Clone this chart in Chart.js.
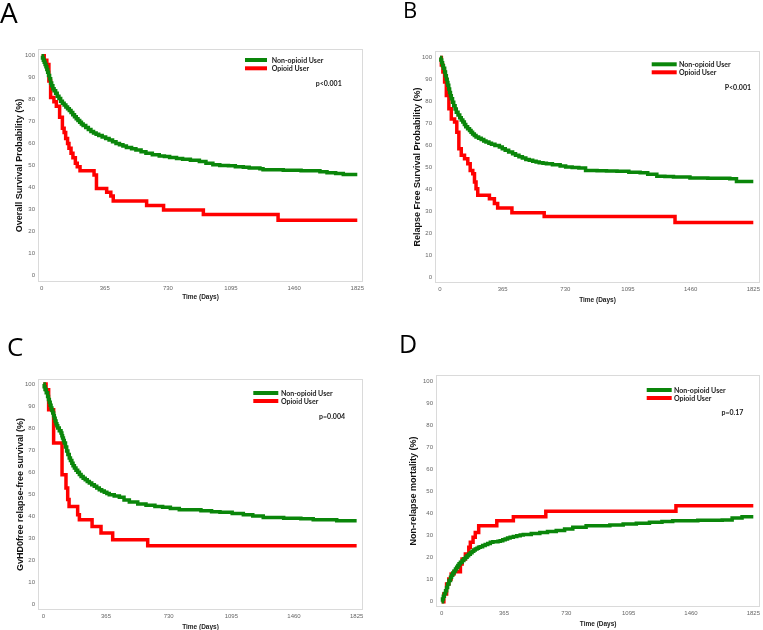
<!DOCTYPE html>
<html><head><meta charset="utf-8">
<script src="https://cdn.jsdelivr.net/npm/chart.js@4.4.0/dist/chart.umd.min.js"></script>
<style>
html,body{margin:0;padding:0;background:#fff;width:763px;height:630px;overflow:hidden;position:relative}
canvas{position:absolute;left:0;top:0}
.letter{position:absolute;font-family:'Open Sans',sans-serif;color:#000;line-height:1;white-space:nowrap}
</style></head><body>
<canvas id="cA" width="763" height="630"></canvas>
<canvas id="cB" width="763" height="630"></canvas>
<canvas id="cC" width="763" height="630"></canvas>
<canvas id="cD" width="763" height="630"></canvas>
<script>
// ---------- DATA ----------
const xTicks = [0, 365, 730, 1095, 1460, 1825];
const yTicks = [0, 10, 20, 30, 40, 50, 60, 70, 80, 90, 100];
const seriesNames = ['Non-opioid User', 'Opioid User'];
const panelLetters = ['A', 'B', 'C', 'D'];
const pTexts = ['p<0.001', 'P<0.001', 'p=0.004', 'p=0.17'];
const yTitles = ['Overall Survival Probability (%)', 'Relapse Free Survival Probability (%)', 'GvHD0free relapse-free survival (%)', 'Non-relapse mortality (%)'];
const xTitle = 'Time (Days)';

// Panel A: overall survival
const aNonDays = [0,5,10,15,20,25,30,35,40,46,52,58,65,72,81,90,100,110,120,130,140,150,160,170,180,190,200,210,220,230,240,255,270,285,300,315,330,350,370,390,410,430,450,470,490,520,545,575,603,640,680,710,740,780,815,860,912,950,990,1030,1080,1120,1166,1200,1262,1280,1397,1500,1609,1650,1700,1744,1825];
const aNonVals = [100,99,98,97,96,95,93.8,92.5,91,89.5,87.6,86.3,85,84,82.9,81.5,80.5,79.3,78.3,77.5,76.6,75.8,75,74.1,73.1,72.2,71.3,70.5,69.7,68.9,68.2,67.3,66.4,65.5,64.8,64.2,63.6,63,62.3,61.6,60.8,60,59.4,58.8,58.2,57.6,57,56.2,55.5,54.9,54.3,54,53.6,53.2,52.8,52.4,51.8,51,50.3,50,49.8,49.4,49.1,48.8,48.5,48,47.8,47.6,47.1,46.6,46.3,45.9,45.9];
const aOpDays = [0,15,30,42,52,71,85,104,120,130,139,150,158,170,181,195,206,222,303,317,376,400,414,607,705,935,1367,1825];
const aOpVals = [100,98,96,88.5,81,79,77,72,67,65,62.3,60,57.8,55.5,53.5,51,49.4,47.6,45.6,39.5,37.7,36,33.8,31.7,29.6,27.6,25,25];

// Panel B: relapse free survival
const bNonDays = [0,5,10,15,20,27,32,37,42,46,51,56,61,66,73,80,88,95,105,115,124,133,142,150,161,172,181,190,200,210,225,240,255,268,285,300,320,346,363,380,400,423,440,460,480,500,520,540,560,578,600,620,655,700,732,770,809,848,915,970,1031,1100,1166,1210,1263,1310,1360,1456,1560,1688,1727,1825];
const bNonVals = [100,98.8,97.5,96.2,95,93.3,91.6,90,88.6,87.3,85.6,84,82.6,81.2,79.6,78,76.5,75.1,73.8,72.5,71.5,70.6,69.5,68.5,67.6,66.8,66,65.2,64.5,63.8,63.2,62.6,62,61.5,61,60.5,59.9,59.2,58.5,57.8,57,56.2,55.5,54.8,54.2,53.6,53.2,52.8,52.4,52.1,51.8,51.6,51.2,50.6,50.1,49.9,49.7,48.6,48.4,48.3,48.2,47.8,47.5,46.8,46,45.8,45.6,45.1,45,44.8,43.6,43.6];
const bOpDays = [0,8,17,27,37,52,66,85,98,110,124,143,162,176,191,201,210,220,288,317,336,419,607,1369,1825];
const bOpVals = [100,96.5,93.3,88.8,82.7,76.6,72,70.6,66,58.5,55.5,53.9,51.6,48.6,47.1,43.3,40.3,37.3,35.7,33.5,31.5,29.4,27.6,24.9,24.9];

// Panel C: GvHD-free relapse-free survival
const cNonDays = [0,5,10,17,25,30,35,40,45,50,55,60,64,69,74,79,84,93,103,108,112,117,122,129,136,143,151,158,166,173,181,190,200,210,220,232,244,256,268,282,297,311,326,340,355,370,384,413,443,470,501,550,598,650,695,740,792,918,980,1029,1100,1165,1220,1281,1400,1500,1572,1709,1825];
const cNonVals = [100,98.8,97.5,96,94.4,93,91.7,90.4,89.1,88,86.8,85.6,84.5,83.2,82,81,80,78.8,77.7,76.5,75.5,74.3,73.2,71.4,69.6,68,66.4,65.2,64,62.9,61.8,60.8,59.9,58.9,58,57.2,56.5,55.7,55,54.2,53.5,52.7,52,51.4,50.8,50.2,49.7,49.1,48.5,47.3,46.4,45.5,44.9,44.4,44,43.4,42.9,42.4,42,41.7,41.2,40.6,40,39.4,39,38.8,38.3,37.9,37.9];
const cOpDays = [0,16,31,60,109,132,142,150,200,210,284,336,404,608,1825];
const cOpVals = [100,97.4,88.3,73.2,58.8,52.7,47.5,44.4,40.6,38.3,35.3,32.3,29.2,26.5,26.5];

// Panel D: non-relapse mortality
const dNonDays = [0,5,10,16,23,29,35,43,52,58,65,73,81,88,95,102,110,120,130,140,149,158,168,178,188,197,207,216,226,240,255,270,285,300,315,330,343,358,372,386,401,420,440,460,478,525,575,620,671,720,768,846,908,985,1063,1140,1217,1290,1353,1500,1643,1701,1759,1825];
const dNonVals = [0,1.2,2.5,3.7,5,6.5,8,9.6,11.1,12,13,14,14.9,15.7,16.5,17.2,17.9,18.7,19.5,20.2,20.9,21.6,22.3,22.9,23.5,23.9,24.3,24.7,25,25.5,26,26.5,27,27.2,27.3,27.5,27.7,28.1,28.5,28.9,29.3,29.6,30,30.3,30.5,31,31.5,31.9,32.3,33,33.8,34.5,34.5,34.9,35.3,35.7,36.1,36.5,36.8,37,37.1,38,38.6,38.6];
const dOpDays = [0,13,29,42,56,72,110,120,139,159,168,184,197,217,323,420,610,1372,1825];
const dOpVals = [0,3.5,8,10.3,12.6,13.6,17.1,19.4,21.7,24.7,27,29.3,31.5,34.5,36.8,38.6,41.1,43.6,43.6];

const seriesDays = [[aNonDays, aOpDays], [bNonDays, bOpDays], [cNonDays, cOpDays], [dNonDays, dOpDays]];
const seriesVals = [[aNonVals, aOpVals], [bNonVals, bOpVals], [cNonVals, cOpVals], [dNonVals, dOpVals]];

// ---------- LAYOUT / STYLE ----------
const colors = ['#0a860a', '#ff0000'];
const W = 763, H = 630;
const layouts = [
  {canvas:'cA', box:[38,49,363,282], xr:[-21,1858], yr:[-3.2,103.1], yTitleX:20, xTitleY:297,
   legX:245, legLen:22, legY:[60,68.3], textX:271.7, pX:341.7, pY:83.3,
   letter:{x:0, top:3, size:28}},
  {canvas:'cB', box:[435,51,762,283], xr:[-29,1864], yr:[-2.6,102.9], yTitleX:418, xTitleY:300,
   legX:651.7, legLen:25, legY:[64.3,72.3], textX:679, pX:751, pY:88,
   letter:{x:403, top:2, size:22}},
  {canvas:'cC', box:[38,379,363,610], xr:[-31,1862], yr:[-2.7,102.3], yTitleX:20.7, xTitleY:627,
   legX:253.3, legLen:25, legY:[393,401], textX:281, pX:345, pY:416.7,
   letter:{x:7, top:338, size:26}},
  {canvas:'cD', box:[436,375,762,607], xr:[-33,1866], yr:[-2.4,103], yTitleX:414, xTitleY:624,
   legX:646.7, legLen:25, legY:[390,398], textX:674, pX:743.3, pY:412.7,
   letter:{x:399, top:335, size:25}}
];

const Y_TITLE_FONT = 9, X_TITLE_FONT = 6.5;

const overlay = {
  id: 'overlay',
  beforeDatasetsDraw(chart, args, o) {
    const ctx = chart.ctx, a = chart.chartArea;
    ctx.save();
    ctx.strokeStyle = '#dadada'; ctx.lineWidth = 1;
    ctx.strokeRect(Math.round(a.left) + 0.5, Math.round(a.top) + 0.5,
      Math.round(a.right - a.left) - 1, Math.round(a.bottom - a.top) - 1);
    ctx.restore();
  },
  afterDraw(chart, args, o) {
    const ctx = chart.ctx;
    ctx.save();
    chart.data.datasets.forEach((ds, i) => {
      const y = o.legY[i];
      ctx.strokeStyle = ds.borderColor; ctx.lineWidth = 4; ctx.lineCap = 'butt';
      ctx.beginPath(); ctx.moveTo(o.legX, y); ctx.lineTo(o.legX + o.legLen, y); ctx.stroke();
      ctx.fillStyle = '#222'; ctx.font = 'bold 7px Lato, "Liberation Sans", sans-serif';
      ctx.textBaseline = 'middle'; ctx.textAlign = 'left';
      ctx.fillText(ds.label, o.textX, y + 0.5);
    });
    ctx.fillStyle = '#222'; ctx.font = 'bold 7px Lato, "Liberation Sans", sans-serif';
    ctx.textAlign = 'right'; ctx.textBaseline = 'middle';
    ctx.fillText(o.pText, o.pX, o.pY);
    ctx.restore();
  }
};

layouts.forEach((L, p) => {
  const d = document.createElement('div');
  d.className = 'letter';
  d.textContent = panelLetters[p];
  d.style.fontSize = L.letter.size + 'px';
  d.style.left = L.letter.x + 'px';
  d.style.top = (L.letter.top - 0.175 * L.letter.size) + 'px';
  document.body.appendChild(d);

  const padLeft = L.yTitleX - Y_TITLE_FONT * 1.2 / 2;
  const xBottom = L.xTitleY + X_TITLE_FONT * 1.2 / 2;
  const datasets = seriesNames.map((name, i) => ({
    label: name,
    data: seriesDays[p][i].map((t, k) => ({x: t, y: seriesVals[p][i][k]})),
    borderColor: colors[i],
    backgroundColor: colors[i],
    borderWidth: 3.5,
    stepped: 'before',
    pointRadius: 0,
    fill: false,
    tension: 0
  }));
  new Chart(document.getElementById(L.canvas), {
    type: 'line',
    data: {datasets},
    options: {
      responsive: false,
      animation: false,
      events: [],
      layout: {padding: {left: padLeft, top: L.box[1], right: W - L.box[2], bottom: H - xBottom}},
      plugins: {
        legend: {display: false},
        tooltip: {enabled: false},
        overlay: {legX: L.legX, legLen: L.legLen, legY: L.legY, textX: L.textX, pX: L.pX, pY: L.pY, pText: pTexts[p]}
      },
      scales: {
        x: {
          type: 'linear', min: L.xr[0], max: L.xr[1],
          grid: {display: false, drawTicks: false},
          border: {display: false},
          afterBuildTicks: s => { s.ticks = xTicks.map(v => ({value: v})); },
          afterFit: s => { s.height = xBottom - L.box[3]; },
          ticks: {autoSkip: false, maxRotation: 0, padding: 3, color: '#666',
                  font: {size: 6, family: '"Liberation Sans", Arial, sans-serif'},
                  callback: v => String(v)},
          title: {display: true, text: xTitle, color: '#222', padding: 0,
                  font: {size: X_TITLE_FONT, weight: 'bold', family: '"Liberation Sans", Arial, sans-serif'}}
        },
        y: {
          type: 'linear', min: L.yr[0], max: L.yr[1],
          grid: {display: false, drawTicks: false},
          border: {display: false},
          afterBuildTicks: s => { s.ticks = yTicks.map(v => ({value: v})); },
          afterFit: s => { s.width = L.box[0] - padLeft; },
          ticks: {autoSkip: false, padding: 3, color: '#666',
                  font: {size: 6, family: '"Liberation Sans", Arial, sans-serif'},
                  callback: v => String(v)},
          title: {display: true, text: yTitles[p], color: '#111', padding: 0,
                  font: {size: Y_TITLE_FONT, weight: 'bold', family: '"Liberation Sans", Arial, sans-serif'}}
        }
      }
    },
    plugins: [overlay]
  });
});
</script>
</body></html>
